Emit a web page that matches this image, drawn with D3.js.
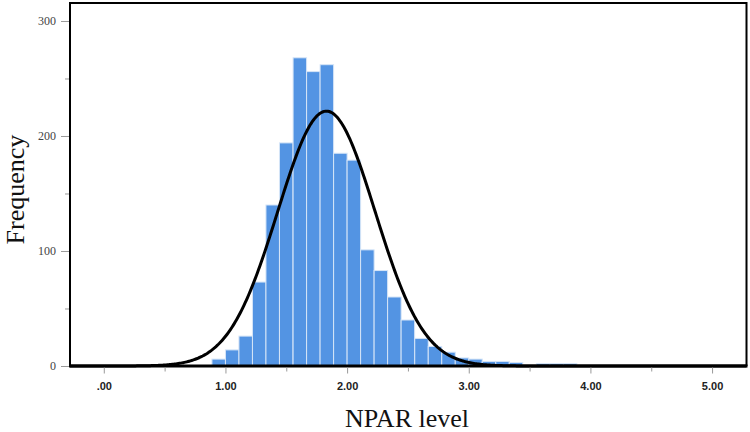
<!DOCTYPE html>
<html>
<head>
<meta charset="utf-8">
<script src="https://cdn.jsdelivr.net/npm/d3@7"></script>
<style>
  html, body { margin: 0; padding: 0; background: #fff; }
  svg { display: block; }
  .serif { font-family: "Liberation Serif", "Times New Roman", "DejaVu Serif", serif; }
  .sansb { font-family: "Liberation Sans", Arial, "DejaVu Sans", sans-serif; font-weight: bold; }
</style>
</head>
<body>
<svg id="chart" width="750" height="432"></svg>
<script>
// ---- data ----
const binLow = [0.889, 1.000, 1.111, 1.222, 1.333, 1.444, 1.556, 1.667, 1.778, 1.889,
                2.000, 2.111, 2.222, 2.333, 2.444, 2.556, 2.667, 2.778, 2.889, 3.000,
                3.111, 3.222, 3.333, 3.444, 3.556, 3.667, 3.778];
const binWidth = 0.1111;
const counts = [6, 14, 26, 73, 140, 194, 268, 256, 262, 185,
                179, 101, 83, 60, 40, 24, 17, 12, 7, 6,
                4, 4, 3, 0, 2, 2, 2];
const xTickValues = [0, 0.5, 1, 1.5, 2, 2.5, 3, 3.5, 4, 4.5, 5];
const xTickLabels = [".00", "", "1.00", "", "2.00", "", "3.00", "", "4.00", "", "5.00"];
const yTickValues = [0, 50, 100, 150, 200, 250, 300];
const yTickLabels = ["0", "", "100", "", "200", "", "300"];
// fitted normal curve parameters
const normalMean = 1.83;
const normalSD = 0.40;
const normalN = 2000;
const xTitle = "NPAR level";
const yTitle = "Frequency";

// ---- layout ----
const svg = d3.select("#chart");
const pLeft = 70, pRight = 746.5, pTop = 3, pBottom = 366;

const x = d3.scaleLinear().domain([-0.2777, 5.283]).range([pLeft, pRight]);
const y = d3.scaleLinear().domain([0, 315.65]).range([pBottom, pTop]);

const bars = binLow.map((b, i) => ({ x0: b, x1: b + binWidth, n: counts[i] }));

// bars
svg.append("g").selectAll("rect")
  .data(bars.filter(d => d.n > 0))
  .join("rect")
  .attr("x", d => x(d.x0))
  .attr("width", d => x(d.x1) - x(d.x0))
  .attr("y", d => y(d.n))
  .attr("height", d => y(0) - y(d.n))
  .attr("fill", "#5394e3")
  .attr("stroke", "#d6e5f7")
  .attr("stroke-width", 1);

// normal curve
const dens = v => normalN * binWidth / (normalSD * Math.sqrt(2 * Math.PI)) *
  Math.exp(-0.5 * Math.pow((v - normalMean) / normalSD, 2));
const curvePts = d3.range(x.domain()[0], x.domain()[1] + 0.001, 0.01).map(v => [v, dens(v)]);
svg.append("path")
  .datum(curvePts)
  .attr("fill", "none")
  .attr("stroke", "#000")
  .attr("stroke-width", 3)
  .attr("d", d3.line().x(d => x(d[0])).y(d => y(d[1])));

// frame
svg.append("path")
  .attr("d", `M${pLeft},${pBottom} V${pTop} H${pRight} V${pBottom}`)
  .attr("fill", "none").attr("stroke", "#000").attr("stroke-width", 2);
svg.append("line")
  .attr("x1", pLeft - 1).attr("x2", pRight + 1).attr("y1", pBottom).attr("y2", pBottom)
  .attr("stroke", "#000").attr("stroke-width", 3);

// x axis
const xAxis = d3.axisBottom(x)
  .tickValues(xTickValues)
  .tickSize(0)
  .tickFormat((d, i) => xTickLabels[i]);
const gx = svg.append("g").attr("transform", `translate(0,${pBottom + 1.5})`).call(xAxis);
gx.attr("font-family", null).attr("font-size", null);
gx.select(".domain").remove();
gx.selectAll(".tick line")
  .attr("y2", (d, i) => xTickLabels[i] ? 6 : 4)
  .attr("stroke", "#999");
gx.selectAll(".tick text")
  .attr("class", "sansb")
  .attr("y", 15)
  .style("font-size", "11px")
  .attr("fill", "#222");

// y axis
const yAxis = d3.axisLeft(y)
  .tickValues(yTickValues)
  .tickSize(0)
  .tickFormat((d, i) => yTickLabels[i]);
const gy = svg.append("g").attr("transform", `translate(${pLeft - 1},0)`).call(yAxis);
gy.attr("font-family", null).attr("font-size", null);
gy.select(".domain").remove();
gy.selectAll(".tick line")
  .attr("x2", (d, i) => yTickLabels[i] ? -8 : -4)
  .attr("stroke", "#999");
gy.selectAll(".tick text")
  .attr("class", "serif")
  .attr("x", -13)
  .style("font-size", "12px")
  .attr("fill", "#444");

// titles
svg.append("text")
  .attr("class", "serif")
  .attr("x", 407).attr("y", 426.5)
  .attr("text-anchor", "middle")
  .style("font-size", "26px")
  .attr("fill", "#111")
  .text(xTitle);
svg.append("text")
  .attr("class", "serif")
  .attr("transform", "translate(23.5,189.5) rotate(-90)")
  .attr("text-anchor", "middle")
  .style("font-size", "26px")
  .attr("fill", "#111")
  .text(yTitle);
</script>
</body>
</html>
